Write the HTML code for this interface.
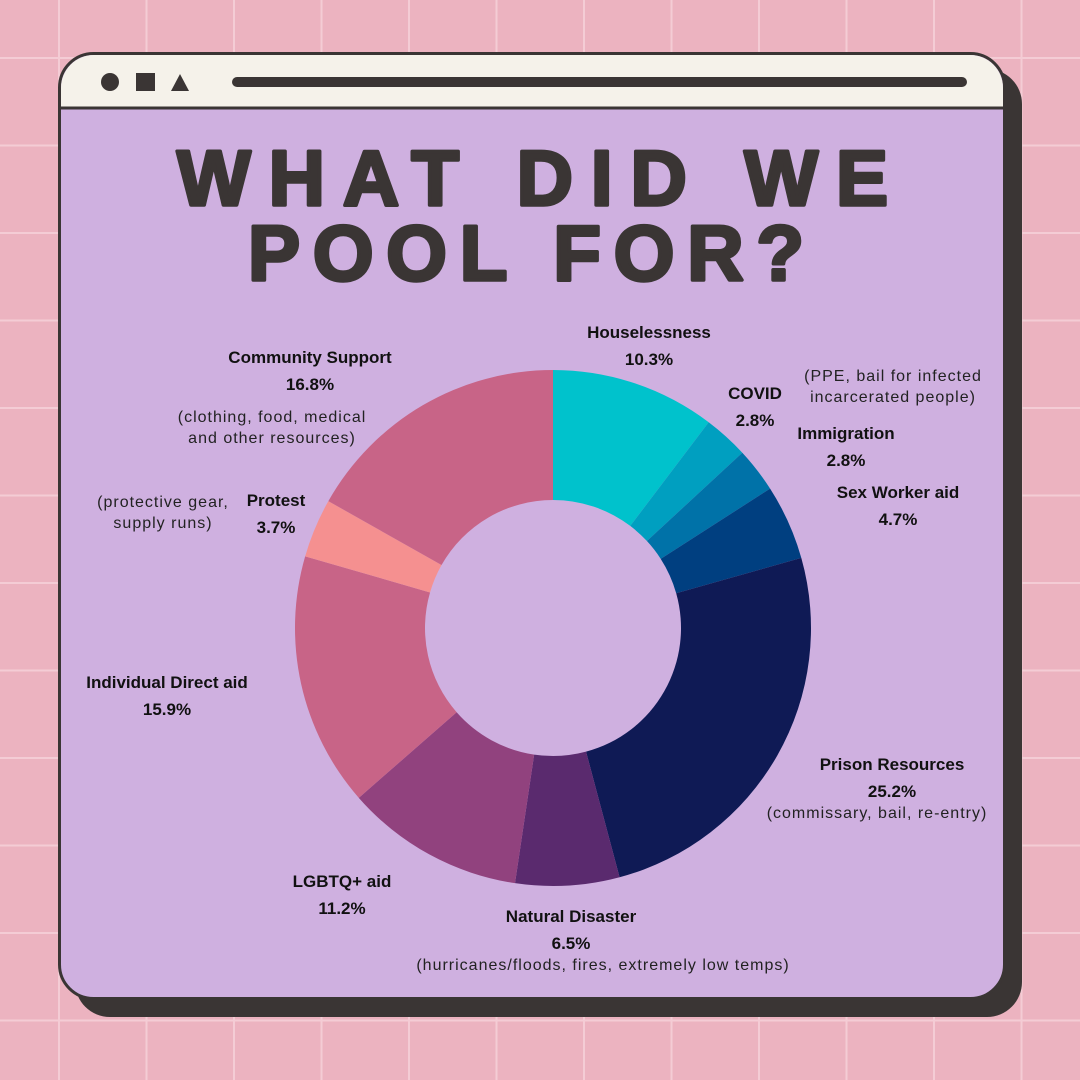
<!DOCTYPE html>
<html><head><meta charset="utf-8"><style>
body{margin:0;width:1080px;height:1080px;overflow:hidden;background:#ecb3c0;font-family:"Liberation Sans",sans-serif}
.l{position:absolute;text-align:center;font-weight:bold;font-size:17px;color:#111;line-height:27px;transform:translateX(-50%);white-space:nowrap}
.d{position:absolute;text-align:center;font-size:16px;color:#222;line-height:21px;letter-spacing:1px;transform:translateX(-50%);white-space:nowrap}
</style></head><body>
<svg width="1080" height="1080" style="position:absolute;left:0;top:0">
<g id="grid" stroke="#f4ccd5" stroke-width="2"></g>
<rect x="75" y="69" width="947" height="948" rx="35" fill="#3a3534"/>
<rect x="59.5" y="53.5" width="945" height="945" rx="34" fill="#cfb0e0" stroke="#3a3534" stroke-width="3"/>
<path d="M61 107 V88 A33 33 0 0 1 94 55 H970 A33 33 0 0 1 1003 88 V107 Z" fill="#f5f2ea"/>
<line x1="61" y1="108" x2="1003" y2="108" stroke="#3a3534" stroke-width="3"/>
<circle cx="110" cy="82" r="9" fill="#3a3534"/>
<rect x="136" y="73" width="19" height="18" fill="#3a3534"/>
<polygon points="171,91 189,91 180,74" fill="#3a3534"/>
<line x1="237" y1="82" x2="962" y2="82" stroke="#3a3534" stroke-width="10" stroke-linecap="round"/>
<g id="donut"></g>
<text x="177" y="205" textLength="711" lengthAdjust="spacing" font-family="Liberation Sans" font-weight="bold" font-size="78" fill="#3a3534" stroke="#3a3534" stroke-width="3.5" stroke-linejoin="round">WHAT DID WE</text>
<text x="248" y="280" textLength="556" lengthAdjust="spacing" font-family="Liberation Sans" font-weight="bold" font-size="78" fill="#3a3534" stroke="#3a3534" stroke-width="3.5" stroke-linejoin="round">POOL FOR?</text>
</svg>
<div class="l" style="left:649px;top:319px">Houselessness<br>10.3%</div>
<div class="l" style="left:755px;top:380px">COVID<br>2.8%</div>
<div class="d" style="left:893px;top:366px">(PPE, bail for infected<br>incarcerated people)</div>
<div class="l" style="left:846px;top:420px">Immigration<br>2.8%</div>
<div class="l" style="left:898px;top:479px">Sex Worker aid<br>4.7%</div>
<div class="l" style="left:892px;top:751px">Prison Resources<br>25.2%</div>
<div class="d" style="left:877px;top:803px">(commissary, bail, re-entry)</div>
<div class="l" style="left:571px;top:903px">Natural Disaster<br>6.5%</div>
<div class="d" style="left:603px;top:955px">(hurricanes/floods, fires, extremely low temps)</div>
<div class="l" style="left:342px;top:868px">LGBTQ+ aid<br>11.2%</div>
<div class="l" style="left:167px;top:669px">Individual Direct aid<br>15.9%</div>
<div class="l" style="left:276px;top:487px">Protest<br>3.7%</div>
<div class="d" style="left:163px;top:492px">(protective gear,<br>supply runs)</div>
<div class="l" style="left:310px;top:344px">Community Support<br>16.8%</div>
<div class="d" style="left:272px;top:407px">(clothing, food, medical<br>and other resources)</div>
<script>
const categories=["Houselessness","COVID","Immigration","Sex Worker aid","Prison Resources","Natural Disaster","LGBTQ+ aid","Individual Direct aid","Protest","Community Support"];
const values=[10.3,2.8,2.8,4.7,25.2,6.5,11.2,15.9,3.7,16.8];
const colors=["#00c2cc","#009fc0","#0072a8","#003f80","#0f1a55","#5a2a6e","#91427e","#c86487","#f59090","#c86487"];
const NS="http://www.w3.org/2000/svg";
const g=document.getElementById('grid');
for(let i=0;i<13;i++){const p=59+i*87.5;
 const a=document.createElementNS(NS,'line');a.setAttribute('x1',p);a.setAttribute('x2',p);a.setAttribute('y1',0);a.setAttribute('y2',1080);g.appendChild(a);
 const b=document.createElementNS(NS,'line');b.setAttribute('y1',p-1);b.setAttribute('y2',p-1);b.setAttribute('x1',0);b.setAttribute('x2',1080);g.appendChild(b);}
const cx=553,cy=628,R=258,r=128;
const total=values.reduce((a,b)=>a+b,0);
const d=document.getElementById('donut');
let acc=0;
function pt(f,rad){const t=f*2*Math.PI-Math.PI/2;return [cx+rad*Math.cos(t),cy+rad*Math.sin(t)];}
values.forEach((v,i)=>{
 const f0=acc/total,f1=(acc+v)/total;acc+=v;
 const [x0,y0]=pt(f0,R),[x1,y1]=pt(f1,R),[x2,y2]=pt(f1,r),[x3,y3]=pt(f0,r);
 const lg=(f1-f0)>0.5?1:0;
 const p=document.createElementNS(NS,'path');
 p.setAttribute('d',`M${x0} ${y0}A${R} ${R} 0 ${lg} 1 ${x1} ${y1}L${x2} ${y2}A${r} ${r} 0 ${lg} 0 ${x3} ${y3}Z`);
 p.setAttribute('fill',colors[i]);
 
 
 d.appendChild(p);
});
</script>
</body></html>
